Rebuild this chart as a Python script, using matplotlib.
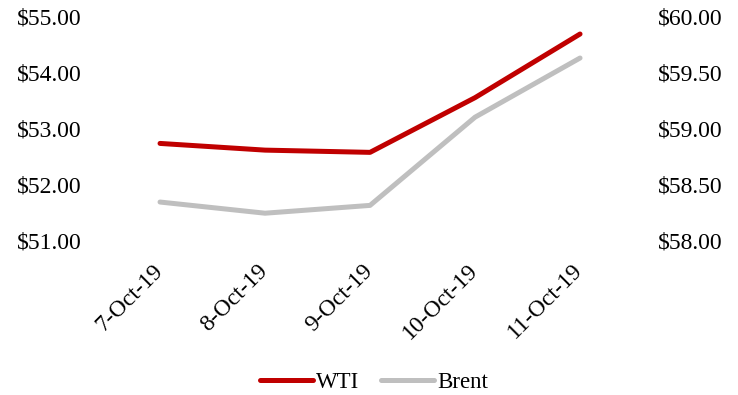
import matplotlib.pyplot as plt
from matplotlib.ticker import FuncFormatter
from matplotlib.transforms import ScaledTranslation, blended_transform_factory

dates = ["7-Oct-19", "8-Oct-19", "9-Oct-19", "10-Oct-19", "11-Oct-19"]
wti = [52.73, 52.61, 52.57, 53.55, 54.69]
brent = [58.34, 58.24, 58.31, 59.10, 59.63]

plt.rcParams['font.family'] = ['Liberation Serif', 'DejaVu Serif']

fig = plt.figure(figsize=(7.38, 3.95), dpi=100)
ax = fig.add_axes([0.1457, 0.3924, 0.7114, 0.5653])
ax2 = ax.twinx()

x = list(range(len(dates)))
l1, = ax.plot(x, wti, color="#C00000", lw=3.6, solid_capstyle="round", label="WTI", zorder=3)
l2, = ax2.plot(x, brent, color="#BFBFBF", lw=3.6, solid_capstyle="round", label="Brent", zorder=2)
ax.set_zorder(ax2.get_zorder() + 1)
ax.patch.set_visible(False)

ax.set_xlim(-0.5, len(dates) - 0.5)
ax.set_ylim(51, 55)
ax2.set_ylim(58, 60)
ax.set_yticks([51, 52, 53, 54, 55])
ax2.set_yticks([58, 58.5, 59, 59.5, 60])
fmt = FuncFormatter(lambda v, p: f"${v:.2f}")
ax.yaxis.set_major_formatter(fmt)
ax2.yaxis.set_major_formatter(fmt)

# category labels, rotated so each one ends just under its point
ax.set_xticks(x)
ax.set_xticklabels([])
xlab_trans = blended_transform_factory(ax.transData, ax.transAxes) + \
    ScaledTranslation(-0.08, -0.20, fig.dpi_scale_trans)
for i, d in zip(x, dates):
    ax.text(i, 0, d, transform=xlab_trans, rotation=45, ha="right", va="top",
            rotation_mode="anchor", fontsize=17, clip_on=False)

for a in (ax, ax2):
    for s in a.spines.values():
        s.set_visible(False)
    a.tick_params(length=0, labelsize=17)
ax.tick_params(axis="y", pad=18.4)
ax2.tick_params(axis="y", pad=18.4)

fig.legend([l1, l2], ["WTI", "Brent"], loc="center", bbox_to_anchor=(0.507, 12.5 / 395),
           ncol=2, frameon=False, fontsize=16.5, handlelength=2.3, handletextpad=0.15,
           columnspacing=0.95, borderaxespad=0, borderpad=0)

fig.savefig("out.png", dpi=100)
